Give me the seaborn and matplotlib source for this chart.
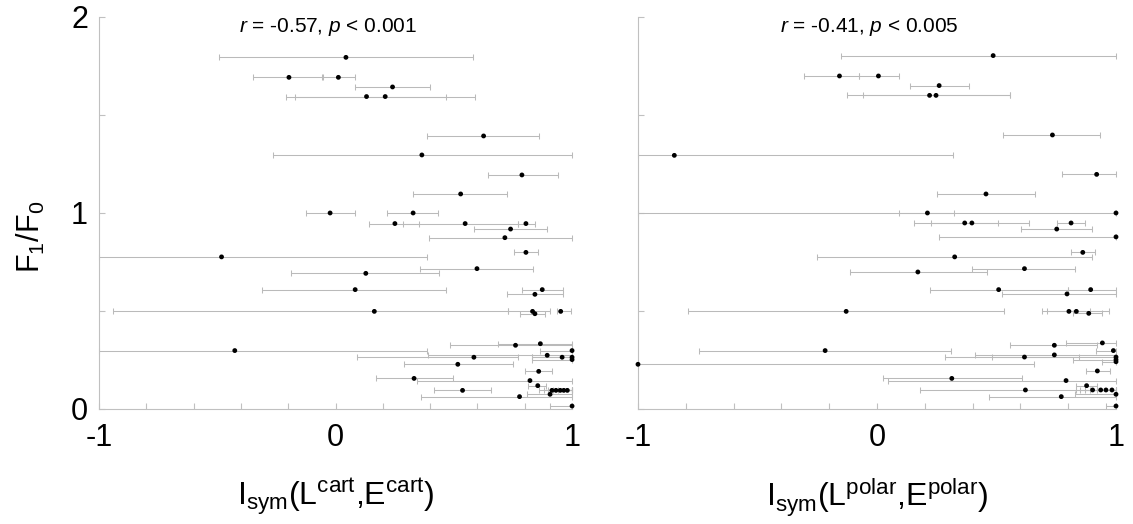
import numpy as np
import matplotlib
matplotlib.use('Agg')
import matplotlib.pyplot as plt
import seaborn as sns

# 左图: I_sym(L^cart, E^cart) 与 F1/F0
left_x = [0.044, -0.197, 0.012, 0.241, 0.131, 0.210, 0.626, 0.365, 0.788, 0.529,
          -0.023, 0.328, 0.251, 0.548, 0.805, 0.740, 0.716, -0.482, 0.805, 0.598,
          0.128, 0.083, 0.874, 0.843, 0.164, 0.833, 0.843, 0.952, 0.866, 0.761,
          -0.426, 1.0, 0.585, 0.895, 0.958, 1.0, 1.0, 0.517, 0.859, 0.332,
          0.822, 0.855, 0.537, 0.915, 0.932, 0.950, 0.965, 0.980, 0.907, 0.778, 1.0]
left_y = [1.794, 1.692, 1.692, 1.643, 1.594, 1.594, 1.393, 1.296, 1.194, 1.097,
          1.0, 1.0, 0.946, 0.946, 0.946, 0.918, 0.874, 0.776, 0.799, 0.716,
          0.692, 0.609, 0.609, 0.585, 0.498, 0.498, 0.486, 0.498, 0.333, 0.325,
          0.298, 0.298, 0.264, 0.274, 0.264, 0.264, 0.252, 0.228, 0.192, 0.156,
          0.145, 0.119, 0.095, 0.095, 0.095, 0.095, 0.095, 0.095, 0.075, 0.063, 0.015]
left_lo = [-0.493, -0.348, -0.059, 0.081, -0.208, -0.170, 0.387, -0.263, 0.643, 0.327,
           -0.123, 0.217, 0.143, 0.286, 0.773, 0.585, 0.396, -1.0, 0.753, 0.355,
           -0.188, -0.310, 0.790, 0.725, -0.939, 0.728, 0.778, 0.938, 0.687, 0.485,
           -1.0, 0.863, 0.090, 0.390, 0.830, 0.830, 0.830, 0.290, 0.802, 0.171,
           0.344, 0.812, 0.418, 0.860, 0.880, 0.900, 0.920, 0.940, 0.810, 0.363, 0.908]
left_hi = [0.582, -0.052, 0.081, 0.400, 0.466, 0.589, 0.860, 1.0, 0.941, 0.725,
           0.081, 0.434, 0.352, 0.773, 0.843, 0.896, 1.0, 0.385, 0.855, 0.835,
           0.437, 0.469, 0.960, 0.960, 0.728, 0.907, 0.886, 0.997, 1.0, 1.0,
           0.387, 1.0, 0.773, 1.0, 1.0, 1.0, 1.0, 0.749, 0.917, 0.495,
           1.0, 0.890, 0.658, 1.0, 1.0, 1.0, 1.0, 1.0, 1.0, 1.0, 1.0]

# 右图: I_sym(L^polar, E^polar) 与 F1/F0
right_x = [0.486, -0.157, 0.006, 0.260, 0.220, 0.247, 0.734, -0.848, 0.919, 0.456,
           0.211, 1.0, 0.367, 0.397, 0.812, 0.752, 1.0, 0.861, 0.325, 0.617,
           0.171, 0.509, 0.894, 0.795, -0.129, 0.803, 0.834, 0.886, 0.943, 0.742,
           -0.217, 0.989, 0.617, 0.742, 1.0, 1.0, 1.0, -1.0, 0.922, 0.313,
           0.791, 0.877, 0.621, 0.902, 0.936, 0.958, 0.983, 1.0, 0.771, 1.0]
right_y = [1.803, 1.699, 1.699, 1.650, 1.600, 1.600, 1.398, 1.294, 1.197, 1.097,
           1.0, 1.0, 0.949, 0.949, 0.949, 0.918, 0.878, 0.799, 0.776, 0.716,
           0.699, 0.609, 0.609, 0.587, 0.498, 0.498, 0.498, 0.488, 0.337, 0.325,
           0.298, 0.298, 0.265, 0.276, 0.265, 0.252, 0.241, 0.228, 0.194, 0.156,
           0.145, 0.119, 0.097, 0.097, 0.097, 0.097, 0.097, 0.075, 0.063, 0.015]
right_lo = [-0.150, -0.305, -0.075, 0.140, -0.125, -0.058, 0.529, -1.0, 0.773, 0.253,
            0.093, -1.0, 0.154, 0.228, 0.755, 0.604, 0.261, 0.812, -0.250, 0.398,
            -0.115, 0.221, 0.798, 0.522, -0.792, 0.691, 0.713, 0.822, 0.791, 0.557,
            -0.746, 0.915, 0.285, 0.408, 0.481, 0.820, 0.940, -1.0, 0.873, 0.027,
            0.044, 0.832, 0.180, 0.832, 0.850, 0.870, 0.890, 0.827, 0.468, 0.958]
right_hi = [1.0, -0.075, 0.093, 0.383, 0.557, 0.557, 0.933, 0.316, 1.0, 0.661,
            0.324, 1.0, 0.505, 0.636, 0.869, 0.898, 1.0, 0.912, 0.898, 0.830,
            0.461, 0.798, 1.0, 1.0, 0.530, 0.891, 0.972, 0.943, 1.0, 0.919,
            0.309, 1.0, 0.845, 1.0, 1.0, 1.0, 1.0, 0.657, 0.975, 0.606,
            1.0, 0.919, 0.919, 1.0, 1.0, 1.0, 1.0, 1.0, 1.0, 1.0]

titles = [r'$\it{r}$ = -0.57, $\it{p}$ < 0.001', r'$\it{r}$ = -0.41, $\it{p}$ < 0.005']
xlabels = [r'$\mathregular{I_{sym}(L^{cart}{,}E^{cart})}$',
           r'$\mathregular{I_{sym}(L^{polar}{,}E^{polar})}$']

sns.set_style('white')
plt.rcParams['font.family'] = ['Liberation Sans', 'DejaVu Sans']
plt.rcParams['mathtext.fontset'] = 'custom'
plt.rcParams['mathtext.rm'] = 'Liberation Sans'
plt.rcParams['mathtext.it'] = 'Liberation Sans:italic'
plt.rcParams['text.color'] = 'black'
plt.rcParams['axes.labelcolor'] = 'black'
plt.rcParams['xtick.color'] = 'black'
plt.rcParams['ytick.color'] = 'black'

fig = plt.figure(figsize=(11.33, 5.24), dpi=100)
ax1 = fig.add_axes([0.0874, 0.2195, 0.4175, 0.7481])
ax2 = fig.add_axes([0.5631, 0.2195, 0.4219, 0.7481])

panels = [(ax1, left_x, left_y, left_lo, left_hi),
          (ax2, right_x, right_y, right_lo, right_hi)]

for i, (ax, x, y, lo, hi) in enumerate(panels):
    x = np.array(x)
    y = np.array(y)
    xerr = [x - np.array(lo), np.array(hi) - x]
    ax.errorbar(x, y, xerr=xerr, fmt='none', ecolor='#bababa', elinewidth=0.75,
                capsize=2.5, capthick=0.75, clip_on=False, zorder=2)
    sns.scatterplot(x=x, y=y, ax=ax, color='black', s=12, edgecolor='none',
                    clip_on=False, zorder=3)
    ax.set_xlim(-1, 1)
    ax.set_ylim(0, 2)
    ax.set_xticks(np.arange(-1, 1.01, 0.2))
    ax.set_xticklabels(['-1', '', '', '', '', '0', '', '', '', '', '1'])
    ax.set_yticks([0, 0.5, 1, 1.5, 2])
    if i == 0:
        ax.set_yticklabels(['0', '', '1', '', '2'])
        ax.set_ylabel(r'$\mathregular{F_1/F_0}$', fontsize=22)
        ax.yaxis.set_label_coords(-0.11, 0.44)
    else:
        ax.set_yticklabels([])
    ax.tick_params(axis='both', direction='in', length=4, width=0.8,
                   color='#c0c0c0', labelcolor='black', labelsize=22,
                   bottom=True, left=True)
    ax.tick_params(axis='x', pad=10)
    ax.tick_params(axis='y', pad=8)
    for side in ['top', 'right']:
        ax.spines[side].set_visible(False)
    for side in ['left', 'bottom']:
        ax.spines[side].set_color('#c0c0c0')
        ax.spines[side].set_linewidth(0.8)
    ax.set_xlabel(xlabels[i], fontsize=23, labelpad=17)
    ax.text(-0.03, 1.925, titles[i], fontsize=15, ha='center', va='baseline')

plt.savefig('out.png', dpi=100)
